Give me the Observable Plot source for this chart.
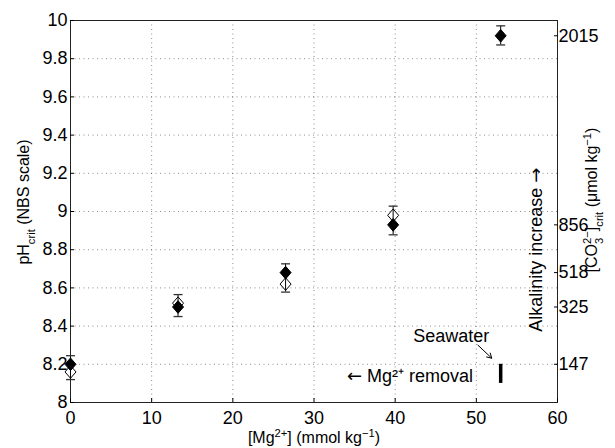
<!DOCTYPE html>
<html>
<head>
<meta charset="utf-8">
<script src="https://cdn.jsdelivr.net/npm/d3@7"></script>
<script src="https://cdn.jsdelivr.net/npm/@observablehq/plot@0.6"></script>
<style>
  html, body { margin: 0; padding: 0; background: #fff; }
  #chart { width: 615px; height: 448px; }
</style>
</head>
<body>
<div id="chart"></div>
<script>
// ---- data ----
const xTicks = [0, 10, 20, 30, 40, 50, 60];
const yTicks = [8, 8.2, 8.4, 8.6, 8.8, 9, 9.2, 9.4, 9.6, 9.8, 10];
const mgFilled = [0, 13.25, 26.5, 39.75, 53];
const phFilled = [8.20, 8.50, 8.68, 8.93, 9.92];
const mgOpen = [0, 13.25, 26.5, 39.75];
const phOpen = [8.16, 8.52, 8.62, 8.98];
const errTop = [8.245, 8.565, 8.726, 9.028, 9.972];
const errBottom = [8.12, 8.45, 8.578, 8.878, 9.872];
const co3Labels = ["147", "325", "518", "856", "2015"];
const seawaterMg = [53];
const seawaterPh = [8.10, 8.20];

const filled = mgFilled.map((m, i) => ({mg: m, ph: phFilled[i]}));
const open = mgOpen.map((m, i) => ({mg: m, ph: phOpen[i]}));
const errs = mgFilled.map((m, i) => ({mg: m, lo: errBottom[i], hi: errTop[i]}));
const sea = seawaterMg.map(m => ({mg: m, lo: seawaterPh[0], hi: seawaterPh[1]}));

const diamond = {
  draw(ctx, size) {
    const r = Math.sqrt(size / Math.PI);
    ctx.moveTo(0, -r * 1.15);
    ctx.lineTo(r, 0);
    ctx.lineTo(0, r * 1.15);
    ctx.lineTo(-r, 0);
    ctx.closePath();
  }
};
const capSym = {
  draw(ctx, size) {
    const r = Math.sqrt(size / Math.PI);
    ctx.moveTo(-r, 0);
    ctx.lineTo(r, 0);
  }
};

const font = "'Liberation Sans', Arial, Helvetica, sans-serif";
const fs = 16;   // axis titles
const tfs = 18;  // tick labels
const afs = 18;  // annotations

const plot = Plot.plot({
  width: 615,
  height: 448,
  marginLeft: 70,
  marginRight: 58,
  marginTop: 20,
  marginBottom: 46,
  style: {fontFamily: font, fontSize: tfs + "px", background: "#fff", color: "#000"},
  x: {domain: [0, 60]},
  y: {domain: [8, 10]},
  marks: [
    Plot.gridX(xTicks, {stroke: "#000", strokeOpacity: 0.45, strokeDasharray: "1,3.5"}),
    Plot.gridY(yTicks, {stroke: "#000", strokeOpacity: 0.45, strokeDasharray: "1,3.5"}),
    Plot.frame({stroke: "#222"}),
    Plot.axisX(xTicks, {anchor: "bottom", tickSize: -4, tickPadding: 13, label: null, fontSize: tfs}),
    Plot.axisY(yTicks, {anchor: "left", tickSize: -4, tickPadding: 7, label: null, fontSize: tfs,
      tickFormat: d => String(+(+d).toFixed(1))}),
    Plot.axisY(phFilled, {anchor: "right", tickSize: -4, tickPadding: 5, label: null, fontSize: tfs,
      tickFormat: d => co3Labels[phFilled.indexOf(d)]}),
    // open diamonds
    Plot.dot(open, {x: "mg", y: "ph", symbol: diamond, r: 5.5, fill: "#fff", stroke: "#000", strokeWidth: 1}),
    // error bars
    Plot.ruleX(errs, {x: "mg", y1: "lo", y2: "hi", stroke: "#000", strokeWidth: 1}),
    Plot.dot(errs, {x: "mg", y: "hi", symbol: capSym, r: 4.5, stroke: "#333", strokeWidth: 1.3}),
    Plot.dot(errs, {x: "mg", y: "lo", symbol: capSym, r: 4.5, stroke: "#333", strokeWidth: 1.3}),
    // filled diamonds
    Plot.dot(filled, {x: "mg", y: "ph", symbol: diamond, r: 5.5, fill: "#000", stroke: "#000", strokeWidth: 1}),
    // seawater bar
    Plot.ruleX(sea, {x: "mg", y1: "lo", y2: "hi", stroke: "#000", strokeWidth: 3.5}),
    // annotations
    Plot.text(["Seawater"], {x: 51.6, y: 8.345, text: d => d, textAnchor: "end", fontSize: afs, fill: "#000"}),
    Plot.arrow([0], {x1: 50.2, y1: 8.30, x2: 51.9, y2: 8.232, stroke: "#000", strokeWidth: 1, headLength: 8, bend: 0}),
    Plot.text(["\u2190 Mg\u00b2\u207a removal"], {x: 49.6, y: 8.14, text: d => d, textAnchor: "end", fontSize: afs, fill: "#000"}),
    Plot.text(["Alkalinity increase \u2192"], {x: 57.4, y: 8.8, text: d => d, rotate: -90, textAnchor: "middle", fontSize: afs, fill: "#000"})
  ]
});

document.getElementById("chart").appendChild(plot);

const svg = d3.select(plot.tagName.toLowerCase() === "svg" ? plot : plot.querySelector("svg"));

// render the arrow glyphs in DejaVu Sans (wider arrows, like the reference)
svg.selectAll("text").each(function() {
  const el = d3.select(this);
  if (el.selectAll("tspan").size() > 0) return;
  const s = el.text();
  if (!/[\u2190\u2192]/.test(s)) return;
  el.text(null);
  s.split(/([\u2190\u2192])/).filter(p => p.length).forEach(p => {
    const ts = el.append("tspan").text(p);
    if (/[\u2190\u2192]/.test(p)) ts.attr("font-family", "'DejaVu Sans', sans-serif");
  });
});

// axis titles with sub/superscripts
function addLabel(x, y, rot, parts) {
  const t = svg.append("text")
    .attr("transform", `translate(${x},${y}) rotate(${rot})`)
    .attr("text-anchor", "middle")
    .attr("font-family", font)
    .attr("font-size", fs)
    .attr("fill", "#000");
  parts.forEach(p => {
    const s = t.append("tspan").text(p.t);
    if (p.sup) s.attr("font-size", fs * 0.7).attr("baseline-shift", "super");
    if (p.sub) s.attr("font-size", fs * 0.7).attr("baseline-shift", "sub");
    if (p.dx) s.attr("dx", p.dx);
  });
}
addLabel(314, 443, 0, [{t: "[Mg"}, {t: "2+", sup: 1}, {t: "] (mmol kg"}, {t: "\u22121", sup: 1}, {t: ")"}]);
addLabel(29, 202, -90, [{t: "pH"}, {t: "crit", sub: 1}, {t: " (NBS scale)"}]);
addLabel(597, 200, -90, [{t: "[CO"}, {t: "3", sub: 1}, {t: "2\u2212", sup: 1, dx: -6.2}, {t: "]"}, {t: "crit", sub: 1}, {t: " (\u03bcmol kg"}, {t: "\u22121", sup: 1}, {t: ")"}]);
</script>
</body>
</html>
